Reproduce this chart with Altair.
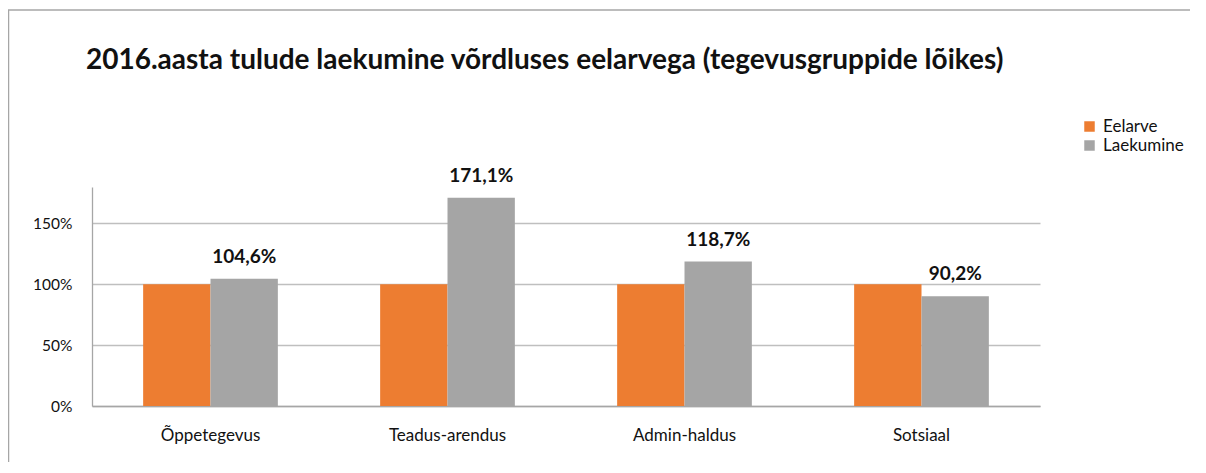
import altair as alt
import pandas as pd

categories = ["Õppetegevus", "Teadus-arendus", "Admin-haldus", "Sotsiaal"]
series = ["Eelarve", "Laekumine"]
eelarve = [100.0, 100.0, 100.0, 100.0]
laekumine = [104.6, 171.1, 118.7, 90.2]
colors = ["#ED7D31", "#A5A5A5"]
y_ticks = [0, 50, 100, 150]
title_text = "2016.aasta tulude laekumine võrdluses eelarvega (tegevusgruppide lõikes)"

rows = []
for c, e, l in zip(categories, eelarve, laekumine):
    rows.append({"Kategooria": c, "Seeria": "Eelarve", "Väärtus": e,
                 "Silt": ""})
    rows.append({"Kategooria": c, "Seeria": "Laekumine", "Väärtus": l,
                 "Silt": f"{l:.1f}".replace(".", ",") + "%"})
df = pd.DataFrame(rows)

FONT = "Lato"
W, H = 948, 219

x_enc = alt.X("Kategooria:N", sort=categories,
              scale=alt.Scale(paddingInner=0.4316, paddingOuter=0.2158),
              axis=alt.Axis(title=None, labelAngle=0, labelFontSize=17, labelFont=FONT,
                            labelColor="#111111", labelPadding=21, ticks=False,
                            domainColor="#A6A6A6", domainWidth=1.3, grid=False))
xoff = alt.XOffset("Seeria:N", sort=series, scale=alt.Scale(domain=series, paddingInner=0))
y_enc = alt.Y("Väärtus:Q", scale=alt.Scale(domain=[0, 180], nice=False),
              axis=alt.Axis(title=None, values=y_ticks, labelExpr="datum.value + '%'",
                            labelFontSize=15.5, labelFont=FONT, labelColor="#111111",
                            labelPadding=20, ticks=False, domainColor="#A6A6A6",
                            domainWidth=1.3, gridColor="#BFBFBF", gridWidth=1.3))

bars = alt.Chart(df).mark_bar().encode(
    x=x_enc, xOffset=xoff, y=y_enc,
    color=alt.Color("Seeria:N", sort=series,
                    scale=alt.Scale(domain=series, range=colors),
                    legend=alt.Legend(title=None, orient="none", legendX=989, legendY=-69,
                                      symbolType="square", symbolSize=110, symbolStrokeWidth=0,
                                      labelFontSize=17, labelFont=FONT, labelColor="#111111",
                                      rowPadding=1, padding=0, labelOffset=5)),
)

labels = alt.Chart(df).transform_filter(alt.datum.Seeria == "Laekumine").mark_text(
    fontWeight="bold", fontSize=19, font=FONT, color="#111111", dy=-22, baseline="middle"
).encode(x=alt.X("Kategooria:N", sort=categories), xOffset=alt.XOffset("Seeria:N", sort=series),
         y="Väärtus:Q", text="Silt:N")

deco_data = alt.Data(values=[{"a": 1}])
top_line = alt.Chart(deco_data).mark_rule(color="#A6A6A6", strokeWidth=1.5).encode(
    x=alt.value(-84), x2=alt.value(1098), y=alt.value(-177))
left_line = alt.Chart(deco_data).mark_rule(color="#A6A6A6", strokeWidth=1.5).encode(
    x=alt.value(-83.5), y=alt.value(-177), y2=alt.value(290))
title_mark = alt.Chart(deco_data).mark_text(
    align="left", baseline="alphabetic", fontSize=28, font=FONT, fontWeight="bold",
    color="#111111").encode(x=alt.value(-6), y=alt.value(-118), text=alt.value(title_text))

chart = alt.layer(top_line, left_line, title_mark, bars, labels).properties(
    width=W, height=H,
    padding={"left": 84, "top": 179, "right": 150, "bottom": 56},
    autosize=alt.AutoSizeParams(type="none"),
).configure_view(stroke=None).configure_axis(labelFont=FONT)

chart.save("out.html", embed_options={"renderer": "svg", "actions": False})
